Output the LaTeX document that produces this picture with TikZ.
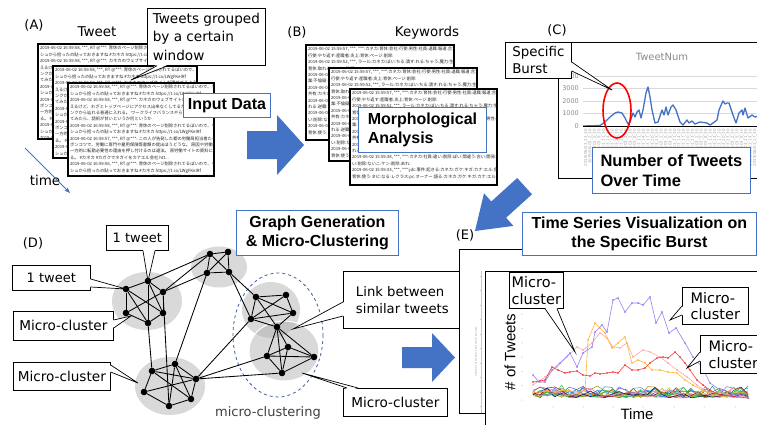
\documentclass[tikz,border=0pt]{standalone}
\usepackage{fontspec}
\setmainfont{DejaVu Sans}
\newfontfamily\jpfont{Noto Sans CJK JP}
\newfontfamily\hdfont{Liberation Sans}
\usetikzlibrary{calc,arrows.meta}

\definecolor{offblue}{HTML}{4472C4}
\definecolor{clgrey}{HTML}{D9D9D9}
\definecolor{cldark}{HTML}{C4C4C4}
\definecolor{axgrey}{HTML}{A6A6A6}
\definecolor{axtext}{HTML}{8C8C8C}
\definecolor{gridgrey}{HTML}{D9D9D9}
\definecolor{sheettext}{HTML}{262626}
\definecolor{dashblue}{HTML}{3F5F9F}
\definecolor{serpurple}{HTML}{9A7CF6}
\definecolor{serorange}{HTML}{FFB733}
\definecolor{serpink}{HTML}{FFA8A8}
\definecolor{serred}{HTML}{F53B3B}

\tikzset{
  lab/.style={font=\fontsize{13}{16}\selectfont, inner sep=0pt},
  cbox/.style={draw=black, fill=white, line width=0.7pt, anchor=north west, inner sep=0pt},
  bbox/.style={draw=offblue, fill=white, line width=0.9pt, anchor=north west, inner sep=0pt},
  btext/.style={font=\hdfont\bfseries\fontsize{16}{19.5}\selectfont, inner sep=0pt},
  ctext/.style={font=\fontsize{13.6}{18.5}\selectfont, align=left, inner sep=0pt},
  sheetbox/.style={draw=black, fill=white, line width=1.2pt, anchor=north west, inner sep=0pt},
  sheettxt/.style={font=\jpfont\fontsize{4.3}{6.4}\selectfont, text=sheettext, align=left, anchor=north west, inner sep=0pt},
  gnode/.style={circle, fill=black, inner sep=0pt, minimum size=6.6pt},
  gedge/.style={line width=0.85pt},
  bigarrow/.style={fill=offblue},
}

% callout wedge: two base points on the box edge, the tip, and an inward shift
\newcommand{\ptr}[5]{%
  \fill[white] ([shift={(#4,#5)}]#1) -- (#3) -- ([shift={(#4,#5)}]#2) -- cycle;
  \draw[line width=0.7pt, line join=miter] (#1) -- (#3) -- (#2);
}

% a sheet of text: name, x, y, width, height, contents
\newcommand{\sheet}[6]{%
  \node[sheetbox, minimum width=#4pt, minimum height=#5pt] (#1) at (#2,#3) {};
  \begin{scope}
    \clip (#1.north west) rectangle (#1.south east);
    \node[sheettxt] (#1-t) at ($(#1.north west)+(1.8,2)$) {#6};
  \end{scope}
  \draw[line width=1.2pt] (#1.north west) rectangle (#1.south east);
}

\newcommand{\tweetlines}{%
2019-06-02 16:59:58, ***, RT @***: 育休のページ削除されてるぽいので、キャッ\\
シュから拾ったの貼っておきますね \#カネカ https://t.co/LWgFKeIRf\\
2019-06-02 16:59:58, ***, RT @***: カネカのウェブサイトが潰せてるように見\\
えるけど、わざとトップページにアクセス出来なくしてるだけっぽい。\\
ンクから辿れる普通に入れる。 ワークライフバランスやら育休のペー\\
てみたら、話術が甘いというか何というか\\
2019-06-02 16:59:58, ***, RT @***: 育休のページ削除されてるぽいので、キャッ\\
シュから拾ったの貼っておきますね \#カネカ https://t.co/LWgFKeIRf\\
2019-06-02 16:59:57, ***, RT @***: この人が告発した都の労働局担当者たるが\\
ポンコツで、労働に専門や雇用保険等書類の提出ほうどうな。 原因や労働者に\\
一方的に転勤必要性の理由を押し付けるのは違法。 原労働サイトの資料にもある\\
る。 \#カネカ \#カガクでネガイをカナエル会社 htt...\\
2019-06-02 16:59:56, ***, RT @***: 育休のページ削除されてるぽいので、キャッ\\
シュから拾ったの貼っておきますね \#カネカ https://t.co/LWgFKeIRf\\
2019-06-02 16:59:56, ***, RT @***: カネカ育休ページ削除ってほんとバカだな\\
。せる週間対話は会社ってあんなにかなってるかのペー層で知的財産取扱された}

\newcommand{\kwlines}{%
2019-06-02 15:59:57, ***, ***:カネカ:育休:会社:行使:男性:社員:退職:報道:合法:\\
行使:やり返す:産職者:炎上:育休:ページ:削除:\\
2019-06-02 15:59:52, ***, ラール:カネカ:ぽい:ちる:潰す:れる:ちゃう:魔力:生力:\\
育休:取れる:ないこ:時間:\\
2019-06-02 15:59:50, ***, ***:不倫:考える:会社:育休:ページ:削除:炎上:男性:社員:\\
業:不倫疑:考える:会社:育休:ページ:カネカ:報道:\\
2019-06-02 15:59:47, ***, ***:思う:する:もう:ちゃう:カネカ:育休:会社:\\
共有:カネカ:ページ:育休:男性:社員:退職:\\
2019-06-02 15:59:45, ***, ***:カネカ:退職:報道:会社:育休:ページ:削除:\\
れる:逆職:する:そる:ちれる:カネカ:ウェブサイト:潰す:る:\\
2019-06-02 15:59:38, ***, ***:カネカ:社員:違い:削除:ぽい:間違う:古い:開発:な\\
い:削除:ないこ:ケン:削除:あれ:\\
2019-06-02 15:59:33, ***, ***:jdc:事件:起きる:カネカ:ガケ:キガ:カナ:エル:会社:\\
育休:使う:タビ:なる:レクラス:pc:オーナー:語る:カネカ:ガケ:キガ:カナ:エル:会社:}

\begin{document}
\begin{tikzpicture}[x=1pt,y=-1pt]
\useasboundingbox (0,0) rectangle (757,425);
\fill[white] (0,0) rectangle (757,425);

%================ (A) tweets =================
\node[lab] (labA) at (34,25) {(A)};
\node[lab, font=\fontsize{13.5}{16}\selectfont] (labTweet) at (97,32) {Tweet};
\sheet{sa1}{38}{44}{150}{94}{\tweetlines}
\sheet{sa2}{53}{66}{143}{91}{\tweetlines}
\sheet{sa3}{68}{83}{145}{92}{\tweetlines}

\node[cbox, minimum width=118pt, minimum height=57pt] (twgbox) at (147,8) {};
\node[ctext] (twgtxt) at (twgbox.center) {Tweets grouped\\by a certain\\window};
\coordinate (twg-b1) at ($(twgbox.south west)+(10,0)$);
\coordinate (twg-b2) at ($(twgbox.south west)+(21,0)$);
\coordinate (twg-tip) at (131,80);
\ptr{twg-b1}{twg-b2}{twg-tip}{0}{-1}

\node[bbox, minimum width=87pt, minimum height=24pt] (inbox) at (183,93) {};
\node[btext] (intxt) at (inbox.center) {Input Data};

\node[lab, font=\fontsize{13.5}{16}\selectfont] (timelab) at (45,180) {time};
\coordinate (time-s) at (25,148);
\coordinate (time-e) at (70,193);
\draw[offblue, line width=0.9pt, -{Stealth[length=6pt,width=4.5pt]}] (time-s) -- (time-e);

% arrow A -> B
\fill[bigarrow] (247,131) -- (277,131) -- (277,115) -- (304,145) -- (277,175) -- (277,159) -- (247,159) -- cycle;

%================ (B) keywords =================
\node[lab] (labB) at (297,32) {(B)};
\node[lab, font=\fontsize{13.4}{16}\selectfont] (labKw) at (427,33) {Keywords};
\sheet{sb1}{306}{45}{147}{94}{\kwlines}
\sheet{sb2}{329}{68}{147}{92}{\kwlines}
\sheet{sb3}{350}{89}{146}{95}{\kwlines}

\node[bbox, minimum width=128pt, minimum height=45pt] (morbox) at (358,107) {};
\node[btext, align=left] (mortxt) at (morbox.center) {Morphological\\Analysis};

%================ (C) tweet counts =================
\node[lab] (labC) at (557,30) {(C)};
\node[draw=black, fill=white, line width=0.8pt, anchor=north west, inner sep=0pt,
      minimum width=215pt, minimum height=136pt] (cframe) at (558,42) {};
\node[font=\fontsize{10}{12}\selectfont, text=axtext, inner sep=0pt] (ctitle) at (662,57) {TweetNum};

\foreach \v/\yy in {1000/113.5, 2000/101, 3000/88.5, 4000/76} {
  \draw[gridgrey, line width=0.6pt] (583,\yy) -- (760,\yy);
  \node[font=\fontsize{6.5}{8}\selectfont, text=axtext, anchor=east, inner sep=0pt] (cy\v) at (579,\yy) {\v};
}
\node[font=\fontsize{6.5}{8}\selectfont, text=axtext, anchor=east, inner sep=0pt] (cy0) at (579,126) {0};

\foreach \k in {0,...,38} {
  \pgfmathtruncatemacro{\hh}{mod(23+\k*3,24)}
  \node[rotate=90, anchor=east, font=\fontsize{4}{5}\selectfont, text=axgrey, inner sep=0pt]
    (cd\k) at ({586+\k*4.45},129) {2019/06/03\_\hh\_30};
}

\draw[offblue, line width=1.3pt, line join=round] plot coordinates {
(583,126)(600,125.5)(605,122)(610,117)(615,113)(618,112)(622,113)(625,118)(628,124)(630,122)
(633,113)(635,117)(637,112)(639,110)(641,118)(643,110)(646,93)(648,87)(650,97)(652,110)
(655,123)(658,122)(662,110)(664,115)(666,107)(668,115)(671,107)(673,105)(676,110)(680,122)
(683,125)(687,120)(689,123)(692,121)(695,124)(700,122)(707,123)(710,125)(713,123)(717,120)
(719,110)(722,103)(723,101)(725,104)(727,103)(729,103)(733,115)(736,123)(739,113)(742,110)
(743,115)(745,108)(748,118)(752,115)(755,117)(760,116)};
\draw[black, line width=0.8pt] (583,126) -- (760,126);

\draw[red, line width=1.6pt] (617,110.5) ellipse [x radius=14, y radius=27.5];

\node[cbox, minimum width=66pt, minimum height=36pt] (spbox) at (505,42) {};
\node[ctext, font=\fontsize{13.4}{17}\selectfont] (sptxt) at (spbox.center) {Specific\\Burst};
\coordinate (sp-b1) at ($(spbox.north east)+(0,20)$);
\coordinate (sp-b2) at ($(spbox.north east)+(0,29)$);
\coordinate (sp-tip) at (612,90);
\ptr{sp-b1}{sp-b2}{sp-tip}{-1}{0}

\node[bbox, minimum width=158pt, minimum height=46pt] (numbox) at (592,147) {};
\node[btext, align=left, font=\hdfont\bfseries\fontsize{16.5}{19.5}\selectfont] (numtxt) at (numbox.center) {Number of Tweets\\Over Time};

% arrow C -> E
\fill[bigarrow] (517.2,178) -- (491.3,201.5) -- (484,193.3) -- (475,231) -- (513.4,225.9) -- (506.1,217.7) -- (532,194.3) -- cycle;

%================ (D) graph =================
\node[lab] (labD) at (33,243) {(D)};

\fill[clgrey] (147,301) ellipse [x radius=35, y radius=29];
\fill[clgrey] (219,267) ellipse [x radius=28, y radius=20.5];
\fill[clgrey] (170,386) ellipse [x radius=35, y radius=29];
\fill[clgrey] (271,310) ellipse [x radius=29, y radius=28];
\fill[clgrey] (284,351) ellipse [x radius=35, y radius=30];
\begin{scope}
  \clip (271,310) ellipse [x radius=29, y radius=28];
  \fill[cldark] (284,351) ellipse [x radius=35, y radius=30];
\end{scope}
\draw[white, line width=1pt] (284,351) ellipse [x radius=35, y radius=30];
\draw[dashblue, dashed, line width=0.8pt] (278,335) ellipse [x radius=45, y radius=62];

\node[lab, text=black!75] (mclab) at (268,413) {micro-clustering};

\node[bbox, minimum width=162pt, minimum height=45pt] (ggbox) at (236,210) {};
\node[btext, align=center] (ggtxt) at (ggbox.center) {Graph Generation\\\& Micro-Clustering};

% tweet nodes
\node[gnode] (a1) at (148,281) {};
\node[gnode] (b1) at (126,289) {};
\node[gnode] (c1) at (163,292) {};
\node[gnode] (d1) at (126,313) {};
\node[gnode] (e1) at (163,313) {};
\node[gnode] (f1) at (148,323) {};
\node[gnode] (p2) at (210,254) {};
\node[gnode] (q2) at (228,252) {};
\node[gnode] (r2) at (207,273) {};
\node[gnode] (s2) at (229,272) {};
\node[gnode] (g1) at (152,371) {};
\node[gnode] (g2) at (175,364) {};
\node[gnode] (g3) at (196,379) {};
\node[gnode] (g4) at (144,392) {};
\node[gnode] (g5) at (191,399) {};
\node[gnode] (g6) at (169,406) {};
\node[gnode] (h1) at (256,297) {};
\node[gnode] (h2) at (286,295) {};
\node[gnode] (h3) at (293,313) {};
\node[gnode] (h4) at (251,319) {};
\node[gnode] (h5) at (277,327) {};
\node[gnode] (k1) at (288,347) {};
\node[gnode] (k2) at (267,356) {};
\node[gnode] (k3) at (314,357) {};
\node[gnode] (k4) at (282,373) {};

% callouts around the graph
\node[cbox, minimum width=62pt, minimum height=25pt] (tw1box) at (106,225) {};
\node[lab] (tw1txt) at (tw1box.center) {1 tweet};
\coordinate (tw1-b1) at ($(tw1box.south west)+(37,0)$);
\coordinate (tw1-b2) at ($(tw1box.south west)+(49,0)$);
\ptr{tw1-b1}{tw1-b2}{a1.center}{0}{-1}

\node[cbox, minimum width=78pt, minimum height=25pt] (tw2box) at (12,265) {};
\node[lab] (tw2txt) at (tw2box.center) {1 tweet};
\coordinate (tw2-b1) at ($(tw2box.north east)+(0,14)$);
\coordinate (tw2-b2) at ($(tw2box.north east)+(0,22)$);
\ptr{tw2-b1}{tw2-b2}{b1.center}{-1}{0}

\node[cbox, minimum width=100pt, minimum height=29pt] (mc1box) at (13,311) {};
\node[lab, font=\fontsize{13.6}{16}\selectfont] (mc1txt) at (mc1box.center) {Micro-cluster};
\coordinate (mc1-b1) at ($(mc1box.north east)+(0,9)$);
\coordinate (mc1-b2) at ($(mc1box.north east)+(0,17)$);
\coordinate (mc1-tip) at (131,316);
\ptr{mc1-b1}{mc1-b2}{mc1-tip}{-1}{0}

\node[cbox, minimum width=97pt, minimum height=28pt] (mc2box) at (13,362) {};
\node[lab, font=\fontsize{13.6}{16}\selectfont] (mc2txt) at (mc2box.center) {Micro-cluster};
\coordinate (mc2-b1) at ($(mc2box.north east)+(0,3)$);
\coordinate (mc2-b2) at ($(mc2box.north east)+(0,10)$);
\coordinate (mc2-tip) at (138,383);
\ptr{mc2-b1}{mc2-b2}{mc2-tip}{-1}{0}

\node[cbox, minimum width=118pt, minimum height=57pt] (linkbox) at (343,271) {};
\node[ctext, font=\fontsize{13.2}{17}\selectfont] (linktxt) at (linkbox.center) {Link between\\similar tweets};
\coordinate (link-b1) at ($(linkbox.north west)+(0,31)$);
\coordinate (link-b2) at ($(linkbox.north west)+(0,45)$);
\coordinate (link-tip) at (293,329);
\ptr{link-b1}{link-b2}{link-tip}{1}{0}

\node[cbox, minimum width=104pt, minimum height=28pt] (mc3box) at (343,388) {};
\node[lab, font=\fontsize{13.6}{16}\selectfont] (mc3txt) at (mc3box.center) {Micro-cluster};
\coordinate (mc3-b1) at ($(mc3box.north west)+(4,0)$);
\coordinate (mc3-b2) at ($(mc3box.north west)+(15,0)$);
\coordinate (mc3-tip) at (302,373);
\ptr{mc3-b1}{mc3-b2}{mc3-tip}{0}{1}

% links between similar tweets
\foreach \u/\w in {a1/b1, a1/c1, a1/f1, a1/e1, b1/d1, b1/e1, b1/f1, c1/d1, c1/e1, d1/f1, e1/f1,
                   p2/q2, p2/r2, q2/s2, r2/s2, p2/s2, q2/r2,
                   g1/g2, g1/g4, g1/g3, g1/g5, g2/g3, g2/g6, g2/g5, g4/g3, g4/g6, g6/g5, g3/g5,
                   h1/h2, h1/h4, h1/h3, h1/h5, h2/h4, h2/h3, h4/h3, h4/h5, h3/h5,
                   h5/k1, h5/k2, h5/k4, h5/k3, k1/k4, k1/k3, k2/k3, k2/k4, k3/k4, k2/k1,
                   a1/p2, c1/p2, c1/r2, r2/g2, s2/h1, s2/h4, f1/g1, c1/g6, g3/h4, g3/k2, g3/k4}
  \draw[gedge] (\u) -- (\w);

% arrow D -> E
\fill[bigarrow] (402,347) -- (432,347) -- (432,333) -- (455,357.5) -- (432,382) -- (432,368) -- (402,368) -- cycle;

%================ (E) time series =================
\node[lab] (labE) at (465,235) {(E)};
\node[draw=black, fill=white, line width=0.8pt, anchor=north west, inner sep=0pt,
      minimum width=320pt, minimum height=164pt] (eouter) at (459,249) {};
\draw[axgrey!60, line width=0.4pt] (481,271) -- (481,413);
\foreach \t in {0,...,9} \draw[axgrey!60, line width=0.3pt] (479.5,{276+\t*14.5}) -- (481,{276+\t*14.5});
\node[rotate=90, font=\fontsize{2.8}{3}\selectfont, text=axgrey, inner sep=0pt] (ebgaxis) at (476,352) {number of tweets that were posted};

\node[bbox, minimum width=234pt, minimum height=43pt] (tsbox) at (522,212) {};
\node[btext, align=center] (tstxt) at (tsbox.center) {Time Series Visualization on\\the Specific Burst};

\node[draw=black, fill=white, line width=0.8pt, anchor=north west, inner sep=0pt,
      minimum width=290pt, minimum height=170pt] (einner) at (485,271) {};

\foreach \t in {0,...,8} \fill[axgrey] (522,{400-\t*14.3}) circle (0.5);
\foreach \xx in {553,583,613,643,674,704,735} \fill[axgrey] (\xx,407) circle (0.5);

\node[rotate=90, font=\hdfont\fontsize{15}{18}\selectfont, inner sep=0pt] (eylab) at (510,352) {\# of Tweets};
\node[font=\hdfont\fontsize{15}{18}\selectfont, inner sep=0pt] (exlab) at (637,414) {Time};

% many small micro-cluster series near the baseline
\pgfmathsetseed{17}
\foreach \c in {green!60!black, blue!75, cyan!70!black, black!65, gray, teal, olive, brown,
                violet!70, orange!80!black, lime!70!black, magenta!60, blue!40!cyan, red!50!black,
                green!80!blue, yellow!80!black, blue!50!black, pink!80!red} {
  \draw[\c, line width=0.45pt, line join=round] (533,{396-6*rnd})
    \foreach \i in {1,...,30} { -- ({533+\i*7.17},{398-13*rnd*rnd-1.5*rnd}) };
}

\draw[serpink, line width=0.6pt] plot[mark=*, mark size=0.55pt] coordinates {
(533,385)(545,377)(557,367)(567,357)(577,347)(583,350)(592,343)(600,333)(607,338)(613,347)
(620,348)(627,343)(633,357)(643,350)(650,352)(660,357)(668,363)(677,370)(687,377)(697,385)
(707,392)(720,393)(748,398)};
\draw[serorange, line width=0.6pt] plot[mark=*, mark size=0.55pt] coordinates {
(533,393)(540,392)(548,391)(555,392)(563,390)(570,391)(578,392)(585,391)(588,340)(595,323)
(600,328)(605,333)(612,348)(618,343)(625,337)(632,363)(638,360)(645,363)(652,370)(660,370)
(668,372)(677,373)(685,380)(693,385)(702,390)(713,395)(727,397)(748,398)};
\draw[serred, line width=0.6pt] plot[mark=*, mark size=0.55pt] coordinates {
(533,382)(540,381)(545,380)(552,367)(558,370)(565,373)(570,372)(577,371)(583,375)(590,376)
(595,373)(600,374)(607,373)(613,372)(618,373)(625,365)(632,370)(638,370)(645,368)(650,363)
(657,358)(663,357)(668,358)(675,352)(680,357)(685,363)(690,370)(697,380)(703,385)(710,390)
(720,395)(748,398)};
\draw[serpurple, line width=0.6pt] plot[mark=*, mark size=0.55pt] coordinates {
(533,375)(539,382)(545,382)(552,370)(560,363)(570,353)(577,367)(583,353)(592,347)(595,332)
(602,325)(607,332)(613,300)(618,298)(625,312)(632,303)(638,303)(643,305)(650,297)(656,323)
(662,312)(669,333)(676,328)(685,343)(693,357)(702,367)(710,383)(720,390)(730,392)(737,397)
(743,395)(748,398)};

\node[cbox, minimum width=54pt, minimum height=36pt] (e1box) at (509,272) {};
\node[ctext, font=\fontsize{14.5}{16.5}\selectfont] (e1txt) at (e1box.center) {Micro-\\cluster};
\coordinate (e1-b1) at ($(e1box.south west)+(36,0)$);
\coordinate (e1-b2) at ($(e1box.south west)+(48,0)$);
\coordinate (e1-tip) at (575,352);
\ptr{e1-b1}{e1-b2}{e1-tip}{0}{-1}

\node[cbox, minimum width=66pt, minimum height=37pt] (e2box) at (682,287) {};
\node[ctext, font=\fontsize{14.5}{16.5}\selectfont] (e2txt) at (e2box.center) {Micro-\\cluster};
\coordinate (e2-b1) at ($(e2box.north west)+(0,19)$);
\coordinate (e2-b2) at ($(e2box.north west)+(0,28)$);
\coordinate (e2-tip) at (670,320);
\ptr{e2-b1}{e2-b2}{e2-tip}{1}{0}

\node[cbox, minimum width=66pt, minimum height=38pt] (e3box) at (700,335) {};
\node[ctext, font=\fontsize{14.5}{16.5}\selectfont] (e3txt) at (e3box.center) {Micro-\\cluster};
\coordinate (e3-b1) at ($(e3box.north west)+(0,17)$);
\coordinate (e3-b2) at ($(e3box.north west)+(0,26)$);
\coordinate (e3-tip) at (687,368);
\ptr{e3-b1}{e3-b2}{e3-tip}{1}{0}

\end{tikzpicture}
\end{document}
